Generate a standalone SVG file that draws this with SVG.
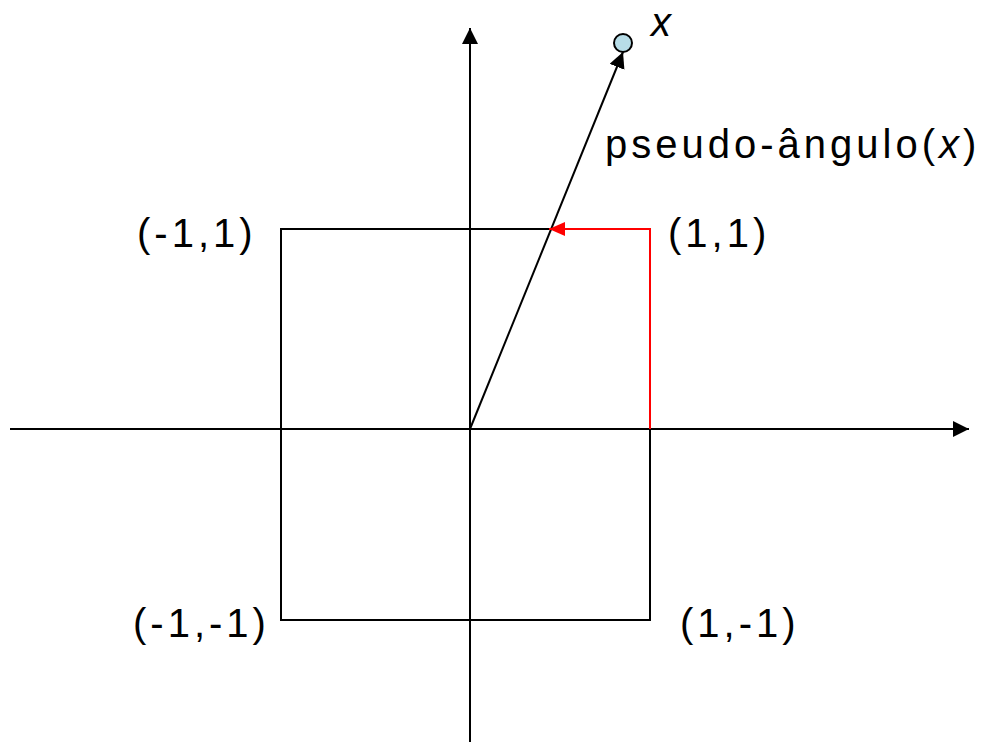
<svg xmlns="http://www.w3.org/2000/svg" width="981" height="742" viewBox="0 0 981 742">
<style>
.ln{stroke:#000;stroke-width:2;fill:none}
.lbl{font-family:"Liberation Sans",Arial,sans-serif;font-size:40px;letter-spacing:4px;fill:#000}
</style>
<defs>
<marker id="ab" markerUnits="userSpaceOnUse" markerWidth="18" markerHeight="16" refX="16" refY="8" orient="auto"><path d="M0,0 L16,8 L0,16 Z" fill="#000"/></marker>
<marker id="ar" markerUnits="userSpaceOnUse" markerWidth="18" markerHeight="16" refX="16" refY="7" orient="auto"><path d="M0,0 L16,7 L0,14 Z" fill="#f00"/></marker>
</defs>
<rect width="981" height="742" fill="#fff"/>
<g id="square"><rect class="ln" x="281" y="229" width="369" height="391"/></g>
<g id="connectors">
<line class="ln" x1="470" y1="742" x2="470" y2="28" marker-end="url(#ab)"/>
<line class="ln" x1="10" y1="429" x2="969" y2="429" marker-end="url(#ab)"/>
<line class="ln" x1="470" y1="429" x2="623" y2="52" marker-end="url(#ab)"/>
<polyline points="650,429 650,229 549,229" stroke="#f00" stroke-width="2" fill="none" marker-end="url(#ar)"/>
</g>
<g id="point"><circle cx="623" cy="43" r="9" fill="#b7dde8" stroke="#000" stroke-width="2"/>
<text x="651" y="36" class="lbl" font-style="italic" style="letter-spacing:0">x</text></g>
<g id="label-pseudo"><text x="605" y="158" class="lbl">pseudo-ângulo(<tspan font-style="italic">x</tspan>)</text></g>
<g id="label-m1p1"><text x="137" y="247" class="lbl">(-1,1)</text></g>
<g id="label-p1p1"><text x="668" y="247" class="lbl">(1,1)</text></g>
<g id="label-m1m1"><text x="133" y="637" class="lbl">(-1,-1)</text></g>
<g id="label-p1m1"><text x="680" y="637" class="lbl">(1,-1)</text></g>
</svg>
